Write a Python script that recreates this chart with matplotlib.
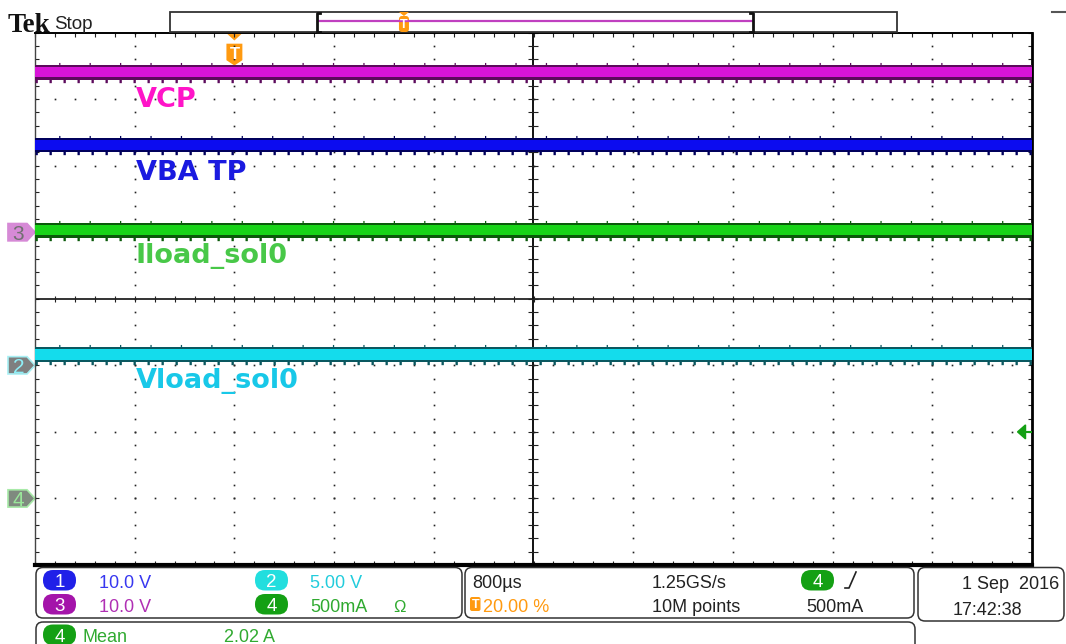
import numpy as np
import matplotlib
matplotlib.use('Agg')
import matplotlib.pyplot as plt
import matplotlib.transforms as mtransforms
from matplotlib.patches import FancyBboxPatch, Polygon, Rectangle

W, H = 1066, 644

# traces, vertical position in divisions (screen centre = 0)
trace_names = ['VCP', 'VBA TP', 'Iload_sol0', 'Vload_sol0']
trace_levels = [3.40, 2.31, 1.03, -0.84]
trace_label_base = [2.88, 1.78, 0.54, -1.34]
record_span = [-5.0, 5.0]  # horizontal divisions shown

trace_colors = ['#d814d8', '#0c0cf0', '#18d418', '#14dcec']
trace_edges = ['#5c0a5c', '#00005c', '#0a5a0a', '#0a5860']
label_colors = ['#ff14c8', '#1a1ae0', '#48c848', '#18c8e8']

# channel ground markers (divisions) and trigger
ch_marker_ids = ['3', '2', '4']
ch_marker_pos = [1.0, -1.0, -3.0]
ch_marker_fill = ['#d68ad6', '#7f7f7f', '#7f8a7f']
ch_marker_text = ['#707070', '#8eeef6', '#9ae69a']
ch_marker_edge = ['#d68ad6', '#a8f0f4', '#a8eaa8']
trig_level = -2.0
trig_pos_pct = 20.0

# readouts
ch_ids = ['1', '2', '3', '4']
ch_scales = ['10.0 V', '5.00 V', '10.0 V', '500mA']
ch_badge = ['#2020e8', '#22dede', '#a414aa', '#14a014']
ch_text = ['#3838f0', '#22ccdc', '#b030b4', '#30aa30']
horiz_scale = '800\u00b5s'
sample_rate = '1.25GS/s'
record_len = '10M points'
trig_src = '4'
trig_val = '500mA'
date_str = '1 Sep  2016'
time_str = '17:42:38'
meas_name = 'Mean'
meas_val = '2.02 A'

plt.rcParams['font.family'] = ['Liberation Sans', 'DejaVu Sans']

fig = plt.figure(figsize=(W / 100, H / 100), dpi=100, facecolor='white')

# graticule
ax = fig.add_axes([35 / W, (H - 565) / H, 997 / W, 532.5 / H])
ax.set_xlim(-5, 5)
ax.set_ylim(-4, 4)
fine_x = np.arange(-5, 5.001, 0.2)
fine_y = np.arange(-4, 4.001, 0.2)
ax.set_xticks(fine_x)
ax.set_yticks(fine_y)
ax.tick_params(axis='both', direction='in', length=3, width=0.8, color='#222',
               top=True, right=True, labelbottom=False, labelleft=False)
ax.spines['left'].set_color('#444')
ax.spines['left'].set_linewidth(1.0)
ax.spines['top'].set_linewidth(1.4)
ax.spines['right'].set_linewidth(2.0)
ax.spines['bottom'].set_linewidth(3.0)

for gx in range(-4, 5):
    if gx == 0:
        continue
    ax.plot(np.full_like(fine_y, gx), fine_y, ls='none', marker='s', ms=1.2,
            mew=0, color='#222')
for gy in range(-3, 4):
    if gy == 0:
        continue
    ax.plot(fine_x, np.full_like(fine_x, gy), ls='none', marker='s', ms=1.2,
            mew=0, color='#222')

ax.axhline(0, color='#111', lw=1.2)
ax.axvline(0, color='#111', lw=1.4)
ax.plot(fine_x, np.zeros_like(fine_x), ls='none', marker='|', ms=5, mew=0.8, color='#222')
ax.plot(np.zeros_like(fine_y), fine_y, ls='none', marker='_', ms=7, mew=0.8, color='#222')

# traces
tx = np.array(record_span)
for lvl, c, ec in zip(trace_levels, trace_colors, trace_edges):
    ax.fill_between(tx, lvl - 0.11, lvl + 0.11, color=ec, lw=0, zorder=3)
    ax.fill_between(tx, lvl - 0.075, lvl + 0.08, color=c, lw=0, zorder=3)
    ax.plot(tx, [lvl - 0.125] * 2, color=ec, lw=2.4, ls=(0, (0.7, 3.5)), zorder=3)
    ax.plot(tx, [lvl + 0.125] * 2, color=ec, lw=1.5, ls=(3, (0.6, 14)), zorder=3)

for name, yb, lc in zip(trace_names, trace_label_base, label_colors):
    ax.text(-3.99, yb, name, color=lc, fontsize=19.5, fontweight='bold',
            family='DejaVu Sans', va='baseline', ha='left', zorder=4)

# channel markers on the left edge
yt = mtransforms.blended_transform_factory(ax.transAxes, ax.transData)
for cid, yp, fc, tc, ec in zip(ch_marker_ids, ch_marker_pos, ch_marker_fill,
                               ch_marker_text, ch_marker_edge):
    h = 0.13
    pts = [(-0.0271, yp - h), (-0.008, yp - h), (0, yp), (-0.008, yp + h), (-0.0271, yp + h)]
    ax.add_patch(Polygon(pts, closed=True, fc=fc, ec=ec, lw=1.2, transform=yt, clip_on=False))
    ax.text(-0.0165, yp, cid, color=tc, fontsize=15, ha='center', va='center_baseline',
            transform=yt, clip_on=False)

# trigger level arrow on the right
tg = '#14a014'
ax.add_patch(Polygon([(0.9855, trig_level), (0.9935, trig_level - 0.105),
                      (0.9935, trig_level + 0.105)], closed=True, fc=tg, ec=tg,
                     transform=yt, clip_on=False, zorder=5))
ax.plot([0.99, 1.0], [trig_level] * 2, color=tg, lw=1.5, transform=yt, zorder=5)

# trigger position marker at the top
xt = mtransforms.blended_transform_factory(ax.transData, ax.transAxes)
tpos = record_span[0] + (record_span[1] - record_span[0]) * trig_pos_pct / 100
org = '#ff9a10'
ax.add_patch(Polygon([(tpos - 0.07, 0.997), (tpos + 0.07, 0.997), (tpos, 0.985)],
                     closed=True, fc=org, ec='none', transform=xt, clip_on=False))
ax.add_patch(Polygon([(tpos - 0.08, 0.979), (tpos + 0.08, 0.979), (tpos + 0.08, 0.948),
                      (tpos, 0.938), (tpos - 0.08, 0.948)], closed=True, fc=org, ec='none',
                     transform=xt, clip_on=False))
ax.text(tpos, 0.958, 'T', color='white', fontsize=12, fontweight='bold', ha='center',
        va='center', transform=xt)

# overlay for the scope chrome, pixel coordinates
ov = fig.add_axes([0, 0, 1, 1])
ov.set_xlim(0, W)
ov.set_ylim(H, 0)
ov.axis('off')

ov.text(8, 32, 'Tek', family='Liberation Serif', fontweight='bold', fontsize=19.5,
        color='#111', va='baseline')
ov.text(54, 28.5, 'Stop', fontsize=13.5, color='#222', va='baseline')

# record view bar
ov.add_patch(Rectangle((170, 12), 727, 20, fc='none', ec='#333', lw=1.3))
rv0, rv1 = 316.7, 753.0
ov.plot([rv0 + 1, rv1 - 1], [21, 21], color='#c040c0', lw=1.6)
for bx, d in [(rv0, 1), (rv1, -1)]:
    ov.plot([bx + 3 * d, bx, bx, bx + 3 * d], [12.5, 12.5, 31.5, 31.5], color='#111', lw=2)
bt = rv0 + (rv1 - rv0) * trig_pos_pct / 100
ov.add_patch(Polygon([(bt - 5, 12), (bt + 5, 12), (bt, 16)], closed=True, fc=org, ec='none'))
ov.add_patch(FancyBboxPatch((bt - 5, 16), 10, 16, boxstyle='round,pad=0,rounding_size=3',
                            fc=org, ec='none'))
ov.text(bt, 24.5, 'T', color='white', fontsize=9, fontweight='bold', ha='center', va='center')
ov.plot([1052, 1066], [12, 12], color='#555', lw=1.5)

# readout panels
def panel(x0, y0, x1, y1):
    ov.add_patch(FancyBboxPatch((x0, y0), x1 - x0, y1 - y0,
                                boxstyle='round,pad=0,rounding_size=7',
                                fc='none', ec='#333', lw=1.1))

panel(36, 567.5, 462, 618)
panel(465, 567.5, 914, 618)
panel(918, 567.5, 1064, 621)
panel(36, 622, 915, 660)

def badge(x, y, txt, color):
    ov.add_patch(FancyBboxPatch((x, y), 33, 20.5, boxstyle='round,pad=0,rounding_size=10',
                                fc=color, ec='none'))
    ov.text(x + 16.5, y + 17, txt, color='white', fontsize=13.5, ha='center', va='baseline')

badge_xy = [(43, 570), (255, 570), (43, 594), (255, 594)]
text_xy = [(99, 587.5), (310, 587.5), (99, 611.5), (310, 611.5)]
for cid, sc, bc, tc, bxy, txy in zip(ch_ids, ch_scales, ch_badge, ch_text, badge_xy, text_xy):
    badge(bxy[0], bxy[1], cid, bc)
    ov.text(txy[0], txy[1], sc, color=tc, fontsize=13, va='baseline')
ov.text(400, 611.5, '\u03a9', color=ch_text[3], fontsize=12, ha='center', va='baseline')

ov.text(472, 587.5, horiz_scale, color='#222', fontsize=13, va='baseline')
ov.add_patch(FancyBboxPatch((470, 597), 10.5, 14, boxstyle='round,pad=0,rounding_size=2',
                            fc=org, ec='none'))
ov.text(475.2, 608.5, 'T', color='white', fontsize=9, fontweight='bold', ha='center',
        va='baseline')
ov.text(483, 611.5, f'{trig_pos_pct:.2f} %', color=org, fontsize=13, va='baseline')
ov.text(652, 587.5, sample_rate, color='#222', fontsize=13, va='baseline')
ov.text(652, 611.5, record_len, color='#222', fontsize=13, va='baseline')
badge(801, 570, trig_src, ch_badge[3])
ov.plot([845, 849, 856], [588, 588, 572], color='#222', lw=1.2)
ov.text(806, 611.5, trig_val, color='#222', fontsize=13, va='baseline')

ov.text(1059, 589, date_str, color='#222', fontsize=13, ha='right', va='baseline')
ov.text(953, 615, time_str, color='#222', fontsize=13, va='baseline')

badge(43, 624.5, '4', ch_badge[3])
ov.text(82, 642, meas_name, color=ch_text[3], fontsize=13, va='baseline')
ov.text(224, 642, meas_val, color=ch_text[3], fontsize=13, va='baseline')

fig.savefig('out.png', dpi=100, facecolor='white')
